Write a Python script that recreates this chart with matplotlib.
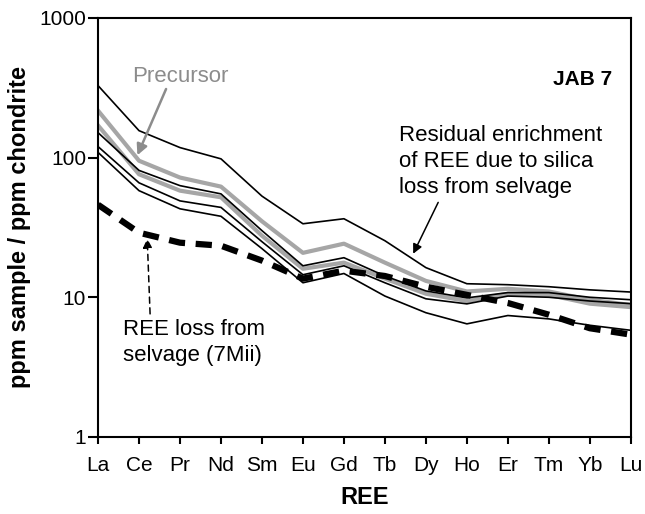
import matplotlib
matplotlib.use("Agg")
import matplotlib.pyplot as plt

plt.rcParams['font.family'] = ['Liberation Sans', 'DejaVu Sans']

ree = ["La", "Ce", "Pr", "Nd", "Sm", "Eu", "Gd", "Tb", "Dy", "Ho", "Er", "Tm", "Yb", "Lu"]

# chondrite-normalised values
upper = [328, 156, 118, 98, 53, 33.6, 36.5, 25.4, 16.3, 12.5, 12.3, 11.9, 11.3, 10.9]
precursor = [217, 95, 72, 62, 35, 20.8, 24.2, 17.7, 13.1, 11.0, 11.5, 11.0, 9.6, 8.8]
gray2 = [170, 76, 58, 52, 27.6, 16.0, 17.7, 13.6, 10.6, 9.4, 10.6, 10.4, 9.0, 8.5]
black2 = [151, 81, 63, 55, 30, 16.8, 19.2, 14.2, 11.1, 9.9, 10.8, 10.8, 10.0, 9.6]
black3 = [120, 66, 49, 44, 25, 14.5, 16.8, 12.7, 9.75, 8.97, 10.2, 10.0, 9.4, 9.0]
lower = [109, 58, 43, 38, 22.3, 12.7, 14.8, 10.2, 7.75, 6.45, 7.4, 7.0, 6.3, 5.8]
selvage = [46, 29, 24.6, 23.4, 18.3, 13.6, 15.5, 14.2, 11.9, 10.4, 9.1, 7.5, 6.0, 5.4]

x = list(range(len(ree)))
grey = '#a6a6a6'

fig = plt.figure(figsize=(6.45, 5.14), dpi=100)
ax = fig.add_axes([0.152, 0.150, 0.826, 0.815])

ax.plot(x, precursor, color=grey, lw=3.0, zorder=2)
ax.plot(x, gray2, color=grey, lw=3.0, zorder=2)
for ys in [upper, black2, black3, lower]:
    ax.plot(x, ys, color='black', lw=1.2, zorder=3)
ax.plot(x, selvage, color='black', lw=4.5, dashes=(2.6, 1.7), zorder=4)

ax.set_yscale('log')
ax.set_ylim(1, 1000)
ax.set_xlim(0, 13)
ax.set_xticks(x)
ax.set_xticklabels(ree)
ax.set_yticks([1, 10, 100, 1000])
ax.set_yticklabels(['1', '10', '100', '1000'])
ax.minorticks_off()
ax.tick_params(axis='both', direction='out', width=1.5, labelsize=15, colors='black')
ax.tick_params(axis='x', length=5, pad=9)
ax.tick_params(axis='y', length=7, pad=1.5)
for s in ax.spines.values():
    s.set_linewidth(1.5)

ax.set_xlabel('REE', fontsize=17, fontweight='bold', labelpad=8)
ax.set_ylabel('ppm sample / ppm chondrite', fontsize=17, fontweight='bold', labelpad=6)

ax.text(0.964, 0.852, 'JAB 7', transform=ax.transAxes, ha='right', va='center',
        fontsize=15, fontweight='bold')

# precursor label and arrow
ax.text(2.0, 380, 'Precursor', ha='center', va='center', fontsize=16, color='#8c8c8c')
ax.annotate('', xy=(0.96, 104), xytext=(1.66, 310),
            arrowprops=dict(arrowstyle='-|>', color='#8c8c8c', lw=1.8, mutation_scale=16,
                            shrinkA=0, shrinkB=0))

ax.text(7.34, 94, 'Residual enrichment\nof REE due to silica\nloss from selvage',
        ha='left', va='center', fontsize=16, linespacing=1.3)
ax.annotate('', xy=(7.69, 20.5), xytext=(8.3, 47.8),
            arrowprops=dict(arrowstyle='-|>', color='black', lw=1.1, mutation_scale=14,
                            shrinkA=0, shrinkB=0))

ax.text(0.61, 4.75, 'REE loss from\nselvage (7Mii)', ha='left', va='center', fontsize=16,
        linespacing=1.3)
ax.annotate('', xy=(1.2, 26.3), xytext=(1.27, 7.6),
            arrowprops=dict(arrowstyle='-|>', color='black', lw=1.1, ls=(0, (4, 3)),
                            mutation_scale=14, shrinkA=0, shrinkB=0))

fig.savefig('out.png', dpi=100)
